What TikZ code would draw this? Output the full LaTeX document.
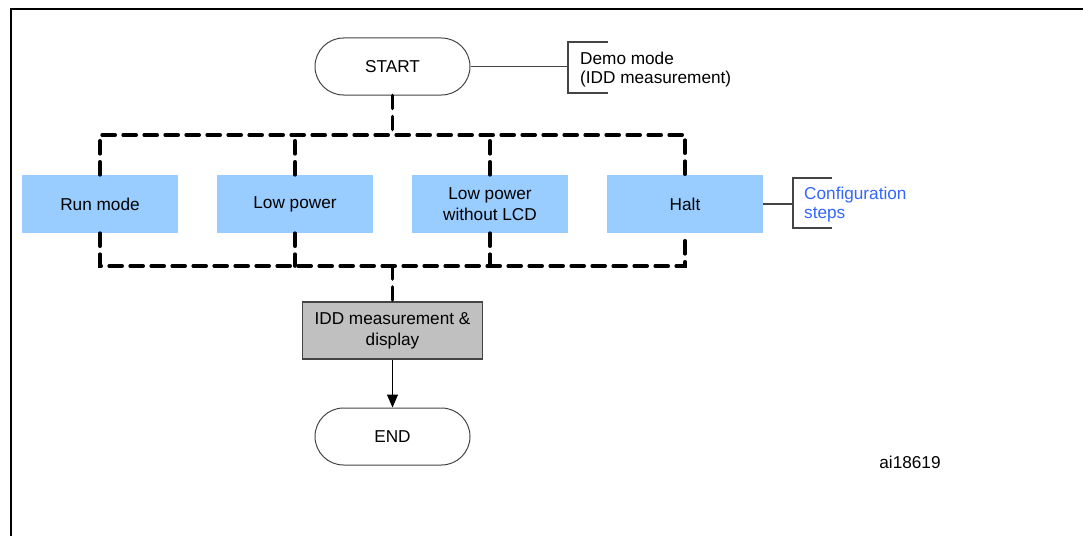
\documentclass[tikz,border=0pt]{standalone}
\usepackage{fontspec}
\setmainfont{Liberation Sans}
\usetikzlibrary{shapes.misc,arrows.meta}
\definecolor{boxblue}{HTML}{99CCFF}
\definecolor{boxgrey}{HTML}{C0C0C0}
\definecolor{cfgblue}{HTML}{3366FF}
\definecolor{linegrey}{HTML}{444444}
\begin{document}
\begin{tikzpicture}[x=1pt,y=-1pt,
  every node/.style={font=\fontsize{17.2}{21}\selectfont, inner sep=0pt},
  term/.style={rounded rectangle, draw=linegrey, line width=1pt, minimum width=155pt, minimum height=57pt},
  modebox/.style={fill=boxblue, minimum width=156pt, minimum height=58pt, align=center},
  measbox/.style={fill=boxgrey, draw=linegrey, line width=1.2pt, minimum width=180pt, minimum height=57pt, align=center},
  dashline/.style={line width=3.6pt, dash pattern=on 13pt off 8pt, line cap=round},
  bracket/.style={draw=linegrey, line width=1.1pt},
  note/.style={anchor=west, align=left, font=\fontsize{17.2}{18.5}\selectfont}
]
\useasboundingbox (0,0) rectangle (1083,535);
% frame
\draw[line width=2.4pt] (11,540) -- (11,9) -- (1090,9);

% nodes
\node[term] (start) at (392.5,66.5) {START};
\node[modebox] (run) at (100,204) {Run mode};
\node[modebox] (low) at (295,204) {Low power};
\node[modebox] (lcd) at (490,204) {Low power\\without LCD};
\node[modebox] (halt) at (685,204) {Halt};
\node[measbox] (idd) at (392.5,330.5) {IDD measurement \&\\display};
\node[term] (end) at (392.5,436.5) {END};

% junction coordinates
\coordinate (tj) at (392.5,135);
\coordinate (bj) at (392.5,266);

% dashed fan-out
\draw[dashline] (start.south) -- (tj);
\draw[dashline] (run.north) -- (run.north |- tj) -- (halt.north |- tj) -- (halt.north);
\draw[dashline] (low.north) -- (low.north |- tj);
\draw[dashline] (lcd.north) -- (lcd.north |- tj);
% dashed fan-in
\draw[dashline] (run.south) -- (run.south |- bj) -- (halt.south |- bj) -- (halt.south);
\draw[dashline] (low.south) -- (low.south |- bj);
\draw[dashline] (lcd.south) -- (lcd.south |- bj);
\draw[dashline] (bj) -- (idd.north);

% arrow
\draw[line width=1pt, -{Triangle[length=13pt,width=11pt]}] (idd.south) -- (end.north);

% Demo mode bracket
\coordinate (db) at (568,66.5);
\draw[bracket] (start.east) -- (db);
\draw[bracket] (608,42) -- (568,42) -- (568,93) -- (608,93);
\node[note] (demo) at (580,69.5) {Demo mode\\(IDD measurement)};

% Configuration bracket
\coordinate (cb) at (793,204);
\draw[bracket] (halt.east) -- (cb);
\draw[bracket] (832,178) -- (793,178) -- (793,228) -- (832,228);
\node[note, text=cfgblue] (cfg) at (804,204.5) {Configuration\\steps};

% figure id
\node (aid) at (910,462) {ai18619};
\end{tikzpicture}
\end{document}
